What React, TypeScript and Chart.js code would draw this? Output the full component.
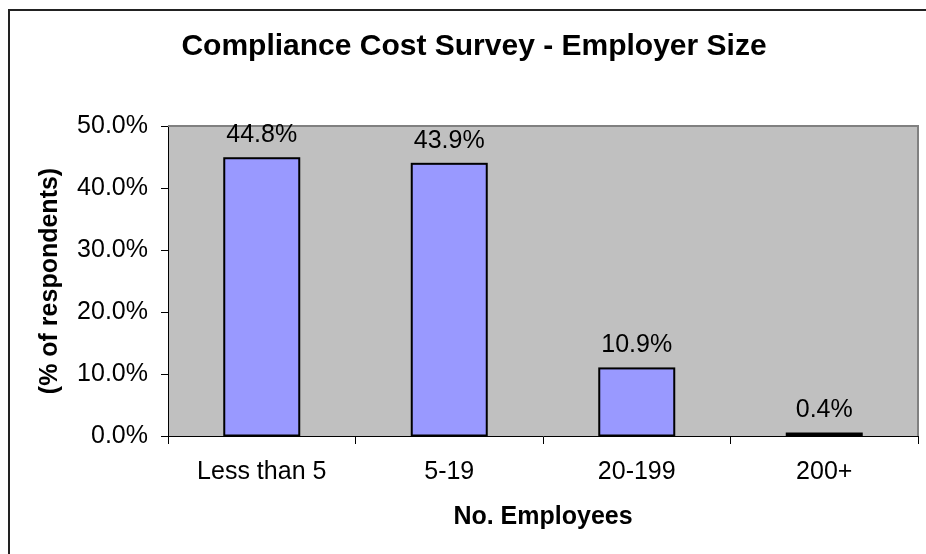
import React, { useEffect, useRef } from "react";
import { Chart, registerables } from "chart.js";

Chart.register(...registerables);

const TITLE = "Compliance Cost Survey - Employer Size";
const categories = ["Less than 5", "5-19", "20-199", "200+"];
const shares = [44.8, 43.9, 10.9, 0.4];
const yTicks = [0, 10, 20, 30, 40, 50];
const xAxisTitle = "No. Employees";
const yAxisTitle = "(% of respondents)";

const FONT = 'Arial, "Liberation Sans", sans-serif';

const decorPlugin = {
  id: "decor",
  beforeDraw(chart: any) {
    const { ctx, chartArea } = chart;
    ctx.save();
    ctx.fillStyle = "#ffffff";
    ctx.fillRect(0, 0, chart.width, chart.height);
    ctx.fillStyle = "#C0C0C0";
    ctx.fillRect(chartArea.left, chartArea.top, chartArea.right - chartArea.left, chartArea.bottom - chartArea.top);
    ctx.restore();
  },
  beforeDatasetsDraw(chart: any) {
    const { ctx, chartArea } = chart;
    ctx.save();
    ctx.strokeStyle = "#808080";
    ctx.lineWidth = 2;
    ctx.beginPath();
    ctx.moveTo(chartArea.left, chartArea.top);
    ctx.lineTo(chartArea.right, chartArea.top);
    ctx.lineTo(chartArea.right, chartArea.bottom);
    ctx.stroke();
    ctx.restore();
  },
  afterDatasetsDraw(chart: any) {
    const { ctx } = chart;
    const meta = chart.getDatasetMeta(0);
    const values = chart.data.datasets[0].data as number[];
    ctx.save();
    meta.data.forEach((bar: any, i: number) => {
      const half = bar.width / 2;
      ctx.strokeStyle = "#000000";
      ctx.lineWidth = 2;
      ctx.strokeRect(bar.x - half, bar.y, bar.width, bar.base - bar.y);
      ctx.fillStyle = "#000000";
      ctx.font = `25px ${FONT}`;
      ctx.textAlign = "center";
      ctx.textBaseline = "middle";
      ctx.fillText(values[i].toFixed(1) + "%", bar.x, bar.y - 23);
    });
    ctx.restore();
  },
  afterDraw(chart: any) {
    const { ctx } = chart;
    ctx.save();
    ctx.fillStyle = "#000000";
    ctx.font = `bold 30px ${FONT}`;
    ctx.textAlign = "center";
    ctx.textBaseline = "middle";
    ctx.fillText(TITLE, 474, 47);
    ctx.strokeStyle = "#222222";
    ctx.lineWidth = 2;
    ctx.beginPath();
    ctx.moveTo(9, chart.height);
    ctx.lineTo(9, 10);
    ctx.lineTo(chart.width, 10);
    ctx.stroke();
    ctx.restore();
  },
};

export default function App() {
  const ref = useRef<HTMLCanvasElement | null>(null);
  useEffect(() => {
    if (!ref.current) return;
    const chart = new Chart(ref.current, {
      type: "bar",
      data: {
        labels: categories,
        datasets: [
          {
            data: shares,
            backgroundColor: "#9999FF",
            borderWidth: 0,
            categoryPercentage: 1,
            barPercentage: 0.4,
          },
        ],
      },
      options: {
        responsive: false,
        animation: false,
        devicePixelRatio: 1,
        layout: { padding: { left: 0, right: 8, top: 126, bottom: 0 } },
        plugins: {
          legend: { display: false },
          title: { display: false },
          tooltip: { enabled: false },
        },
        scales: {
          x: {
            grid: { drawOnChartArea: false, drawTicks: true, tickLength: 8, color: "#000000", offset: true },
            border: { display: true, color: "#000000", width: 1 },
            ticks: { color: "#000000", font: { family: FONT, size: 25 }, padding: 13, maxRotation: 0 },
            title: {
              display: true,
              text: xAxisTitle,
              color: "#000000",
              font: { family: FONT, size: 25, weight: "bold" },
              padding: { top: 0, bottom: 22 },
            },
            afterFit: (scale: any) => {
              scale.height = 118;
            },
          },
          y: {
            min: 0,
            max: 50,
            afterBuildTicks: (scale: any) => {
              scale.ticks = yTicks.map((v) => ({ value: v }));
            },
            grid: { drawOnChartArea: false, drawTicks: true, tickLength: 7, color: "#000000" },
            border: { display: true, color: "#000000", width: 1 },
            ticks: {
              color: "#000000",
              font: { family: FONT, size: 25 },
              padding: 13,
              callback: (v: any) => Number(v).toFixed(1) + "%",
            },
            title: {
              display: true,
              text: yAxisTitle,
              color: "#000000",
              font: { family: FONT, size: 25, weight: "bold" },
              padding: { top: 35, bottom: 0 },
            },
            afterFit: (scale: any) => {
              scale.width = 168;
            },
          },
        },
      },
      plugins: [decorPlugin],
    });
    return () => chart.destroy();
  }, []);
  return (
    <div style={{ position: "absolute", left: 0, top: 0, width: 926, height: 554, background: "#fff" }}>
      <canvas ref={ref} width={926} height={554} style={{ display: "block", width: 926, height: 554 }} />
    </div>
  );
}
